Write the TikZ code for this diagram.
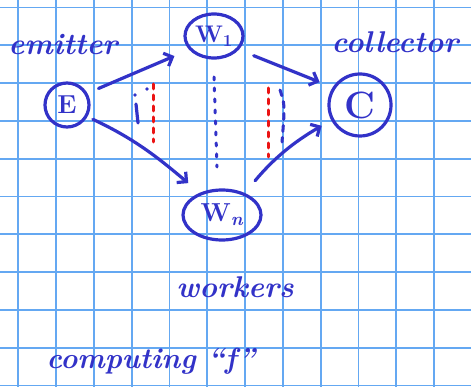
\documentclass[tikz,border=0pt]{standalone}
\usetikzlibrary{arrows.meta,shapes.geometric}
\definecolor{ink}{RGB}{50,50,200}
\definecolor{gridblue}{RGB}{100,168,242}
\definecolor{redink}{RGB}{235,20,20}
\begin{document}
\begin{tikzpicture}[x=1pt,y=1pt,
  inkline/.style={draw=ink,line width=3.2pt,line cap=round,line join=round},
  circnode/.style={circle,inkline,text=ink,inner sep=0pt},
  ellnode/.style={ellipse,inkline,text=ink,inner sep=0pt},
  conn/.style={inkline,-{Straight Barb[length=7pt,width=14pt,line width=3.2pt]}},
  hand/.style={text=ink,font=\fontsize{30}{32}\selectfont\bfseries\itshape},
  bluedots/.style={draw=ink,line width=3pt,line cap=round,dash pattern=on 3pt off 8pt},
  bluedash/.style={draw=ink,line width=3pt,line cap=round,dash pattern=on 6pt off 6pt},
  reddots/.style={draw=redink,line width=3pt,line cap=round,dash pattern=on 5pt off 6pt}]
\useasboundingbox (0,0) rectangle (471,-387);
\clip (0,0) rectangle (471,-387);
\fill[white] (0,0) rectangle (471,-387);
% grid
\foreach \i in {0,...,12} \draw[gridblue,line width=1.7pt] (18.3+37.8*\i,0) -- ++(0,-387);
\foreach \j in {0,...,10} \draw[gridblue,line width=1.7pt] (0,-7.5-37.8*\j) -- ++(471,0);
% nodes
\node[circnode,minimum size=44pt,font=\fontsize{26}{26}\selectfont\bfseries] (E) at (67,-105) {E};
\node[ellnode,minimum width=58pt,minimum height=44pt,font=\fontsize{24}{24}\selectfont\bfseries] (W1) at (214,-36) {W\textsubscript{1}};
\node[ellnode,minimum width=78pt,minimum height=50pt,font=\fontsize{26}{26}\selectfont\bfseries] (Wn) at (222,-215) {W\textsubscript{\itshape n}};
\node[circnode,minimum size=62pt,font=\fontsize{38}{38}\selectfont\bfseries] (C) at (360,-105) {C};
% connectors
\draw[conn,shorten <=12pt,shorten >=16pt] (E.30) -- (W1.209);
\draw[conn,shorten <=6pt,shorten >=15pt] (E.-30) to[out=-25,in=140] (Wn.135);
\draw[conn,shorten <=16pt,shorten >=14pt] (W1.-29) -- (C.147);
\draw[conn,shorten <=16pt,shorten >=11pt] (Wn.44) to[bend left=10] (C.208);
% dotted separators
\fill[ink] (147,-89) circle (1.8pt);
\fill[ink] (135,-95) circle (1.8pt);
\draw[inkline] (136,-104) -- (138,-123);
\draw[reddots] (153,-84) -- (153,-142);
\draw[bluedots] (214,-77) -- (217,-167);
\draw[reddots] (268,-88) -- (268,-157);
\draw[bluedash] (280,-90) .. controls (285,-105) .. (282,-142);
% texts
\node[hand,anchor=base] (emit) at (63,-55) {emitter};
\node[hand,anchor=base west] (coll) at (328,-53) {collector};
\node[hand,anchor=base] (work) at (235,-298) {workers};
\node[hand,anchor=base west,font=\fontsize{29}{31}\selectfont\bfseries\itshape] (comp) at (43,-368) {computing ``f''};
\end{tikzpicture}
\end{document}
